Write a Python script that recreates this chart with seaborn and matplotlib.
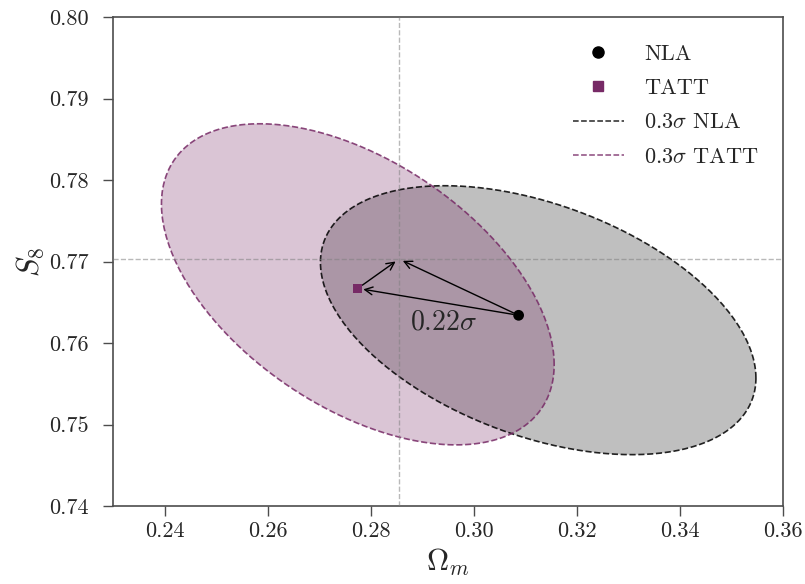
import numpy as np
import pandas as pd
import matplotlib
matplotlib.use("Agg")
import matplotlib.pyplot as plt
import seaborn as sns
from matplotlib.lines import Line2D

# ---------------- data ----------------
labels = ["NLA", "TATT"]
point_omega_m = [0.3087, 0.2775]
point_s8 = [0.7634, 0.7667]

# 0.3 sigma contours: centre, widths and correlation
ell_cx = [0.3125, 0.2775]
ell_cy = [0.7628, 0.7672]
ell_sx = [0.04225, 0.0381]
ell_sy = [0.0165, 0.0197]
ell_rho = [-0.43, -0.50]
contour_labels = [r"$0.3\sigma$ NLA", r"$0.3\sigma$ TATT"]

truth_omega_m = 0.2855
truth_s8 = 0.7703
shift_label = r"$0.22\sigma$"
shift_label_pos = [0.2941, 0.7625]

xticks = [0.24, 0.26, 0.28, 0.30, 0.32, 0.34, 0.36]
yticks = [0.74, 0.75, 0.76, 0.77, 0.78, 0.79, 0.80]

# ---------------- style ----------------
sns.set_style("ticks")
plt.rcParams["font.family"] = "serif"
plt.rcParams["font.serif"] = ["cmr10", "DejaVu Serif"]
plt.rcParams["mathtext.fontset"] = "cm"
plt.rcParams["axes.formatter.use_mathtext"] = True
plt.rcParams["axes.unicode_minus"] = False

nla_color = "black"
tatt_color = "#772a66"

fig = plt.figure(figsize=(8.05, 5.84), dpi=100)
ax = fig.add_axes([113 / 805, 1 - 506 / 584, (783 - 113) / 805, (506 - 17) / 584])

colors = [nla_color, tatt_color]
fill_alpha = [0.25, 0.27]
t = np.linspace(0, 2 * np.pi, 400)
for i in range(2):
    ex = ell_cx[i] + ell_sx[i] * np.cos(t)
    ey = ell_cy[i] + ell_sy[i] * (ell_rho[i] * np.cos(t) + np.sqrt(1 - ell_rho[i] ** 2) * np.sin(t))
    ax.fill(ex, ey, color=colors[i], alpha=fill_alpha[i], lw=0, zorder=1)
    df = pd.DataFrame({"x": ex, "y": ey})
    sns.lineplot(data=df, x="x", y="y", sort=False, estimator=None, ax=ax,
                 color=colors[i], lw=1.2, ls="--", alpha=0.85, zorder=2)

ax.axvline(truth_omega_m, color="gray", ls="--", lw=1, alpha=0.55, zorder=3)
ax.axhline(truth_s8, color="gray", ls="--", lw=1, alpha=0.55, zorder=3)

pts = pd.DataFrame({"x": point_omega_m, "y": point_s8, "label": labels})
sns.scatterplot(data=pts[pts.label == "NLA"], x="x", y="y", marker="o", s=60,
                color=nla_color, edgecolor="none", ax=ax, zorder=5)
sns.scatterplot(data=pts[pts.label == "TATT"], x="x", y="y", marker="s", s=40,
                color=tatt_color, edgecolor="none", ax=ax, zorder=5)

arrow_kw = dict(arrowstyle="->", color="black", lw=1.0, mutation_scale=14)
ax.annotate("", xy=(point_omega_m[1], point_s8[1]), xytext=(point_omega_m[0], point_s8[0]),
            arrowprops=dict(**arrow_kw, shrinkA=4, shrinkB=4), zorder=4)
ax.annotate("", xy=(truth_omega_m, truth_s8), xytext=(point_omega_m[0], point_s8[0]),
            arrowprops=dict(**arrow_kw, shrinkA=4, shrinkB=3), zorder=4)
ax.annotate("", xy=(truth_omega_m, truth_s8), xytext=(point_omega_m[1], point_s8[1]),
            arrowprops=dict(**arrow_kw, shrinkA=4, shrinkB=3), zorder=4)
ax.text(shift_label_pos[0], shift_label_pos[1], shift_label, fontsize=20,
        ha="center", va="center", zorder=6)

ax.set_xlim(0.23, 0.36)
ax.set_ylim(0.74, 0.80)
ax.set_xticks(xticks)
ax.set_yticks(yticks)
ax.set_xticklabels([f"{v:.2f}" for v in xticks])
ax.set_yticklabels([f"{v:.2f}" for v in yticks])
ax.tick_params(axis="both", labelsize=16, length=7.5, width=1, color="0.3", direction="out")
ax.tick_params(axis="y", pad=10)
for sp in ax.spines.values():
    sp.set_visible(True)
    sp.set_color("0.3")
    sp.set_linewidth(1.2)
ax.set_xlabel(r"$\Omega_m$", fontsize=22, labelpad=4)
ax.set_ylabel(r"$S_8$", fontsize=22, labelpad=2)

handles = [
    Line2D([], [], marker="o", ls="none", color=nla_color, markersize=8),
    Line2D([], [], marker="s", ls="none", color=tatt_color, markersize=6.5),
    Line2D([], [], ls="--", color=nla_color, lw=1.1, alpha=0.85),
    Line2D([], [], ls="--", color=tatt_color, lw=1.1, alpha=0.85),
]
ax.legend(handles, labels + contour_labels, loc="upper right", frameon=False,
          bbox_to_anchor=(0.993, 0.985),
          fontsize=16, handlelength=2.3, handletextpad=0.9, labelspacing=0.66)

fig.savefig("out.png", dpi=100)
